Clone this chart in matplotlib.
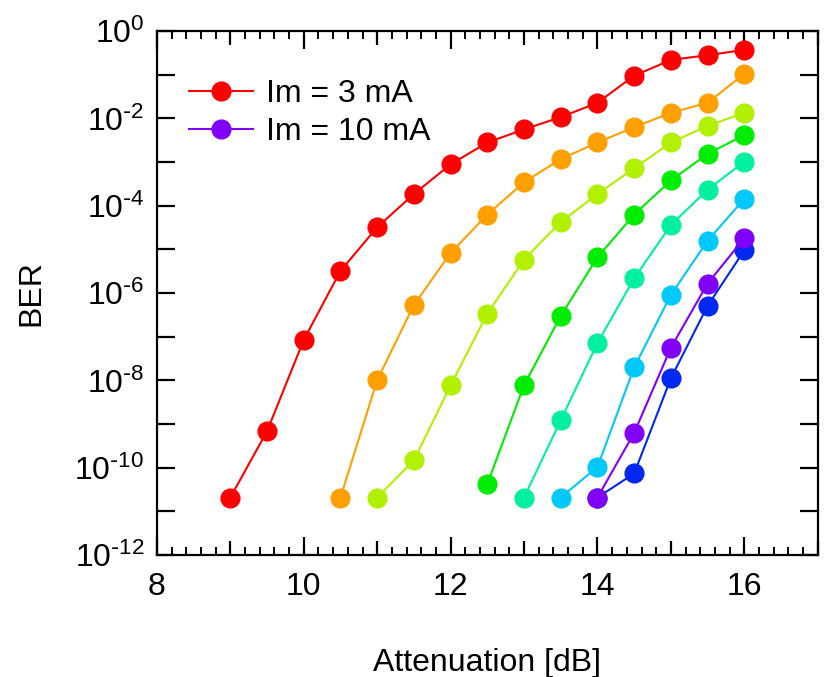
import numpy as np
import matplotlib
matplotlib.use("Agg")
import matplotlib.pyplot as plt
from matplotlib.ticker import FixedLocator, NullFormatter

plt.rcParams['font.family'] = ['Liberation Sans', 'DejaVu Sans']
plt.rcParams['mathtext.default'] = 'regular'

# Data: log10(BER) vs attenuation [dB]
x_red = [9, 9.5, 10, 10.5, 11, 11.5, 12, 12.5, 13, 13.5, 14, 14.5, 15, 15.5, 16]
logber_red = [-10.68, -9.16, -7.07, -5.49, -4.49, -3.73, -3.05, -2.55, -2.25, -1.97, -1.64, -1.02, -0.66, -0.55, -0.43]

x_orange = [10.5, 11, 11.5, 12, 12.5, 13, 13.5, 14, 14.5, 15, 15.5, 16]
logber_orange = [-10.68, -7.99, -6.27, -5.08, -4.20, -3.46, -2.93, -2.55, -2.20, -1.87, -1.64, -0.98]

x_ygreen = [11, 11.5, 12, 12.5, 13, 13.5, 14, 14.5, 15, 15.5, 16]
logber_ygreen = [-10.68, -9.83, -8.11, -6.47, -5.23, -4.37, -3.73, -3.14, -2.55, -2.17, -1.87]

x_green = [12.5, 13, 13.5, 14, 14.5, 15, 15.5, 16]
logber_green = [-10.37, -8.11, -6.52, -5.18, -4.20, -3.42, -2.81, -2.38]

x_spring = [13, 13.5, 14, 14.5, 15, 15.5, 16]
logber_spring = [-10.68, -8.91, -7.14, -5.66, -4.44, -3.63, -2.99]

x_sky = [13.5, 14, 14.5, 15, 15.5, 16]
logber_sky = [-10.68, -9.98, -7.70, -6.04, -4.80, -3.84]

x_blue = [14, 14.5, 15, 15.5, 16]
logber_blue = [-10.68, -10.13, -7.95, -6.29, -5.02]

x_purple = [14, 14.5, 15, 15.5, 16]
logber_purple = [-10.68, -9.20, -7.25, -5.78, -4.74]

series = [
    (x_red, logber_red, '#ff0000', 'Im = 3 mA'),
    (x_orange, logber_orange, '#ffa000', None),
    (x_ygreen, logber_ygreen, '#b0f000', None),
    (x_green, logber_green, '#00ec00', None),
    (x_spring, logber_spring, '#00f0a0', None),
    (x_sky, logber_sky, '#00c8f8', None),
    (x_blue, logber_blue, '#0028f0', None),
    (x_purple, logber_purple, '#8000f8', 'Im = 10 mA'),
]

x_ticks = [8, 10, 12, 14, 16]
y_decades = list(range(-12, 1))

FS = 23

fig = plt.figure(figsize=(8.26, 6.77), dpi=100)
ax = fig.add_axes([0.190, 0.180, 0.800, 0.774])

handles = {}
for xs, lb, col, lab in series:
    ys = 10.0 ** np.array(lb)
    h, = ax.plot(xs, ys, '-o', color=col, lw=1.5, ms=13.5, mec=col, mfc=col)
    if lab:
        handles[lab] = h

ax.set_yscale('log')
ax.set_xlim(8, 17)
ax.set_ylim(1e-12, 1e0)

ax.xaxis.set_major_locator(FixedLocator(x_ticks))
ax.xaxis.set_minor_locator(FixedLocator(np.arange(8, 17.01, 0.2)))
ax.set_xticklabels([str(t) for t in x_ticks])


def ylab(d):
    if d % 2:
        return ''
    if d < 0:
        return r'$10^{\text{-}%d}$' % (-d)
    return r'$10^{%d}$' % d


ax.yaxis.set_major_locator(FixedLocator([10.0 ** d for d in y_decades]))
ax.set_yticklabels([ylab(d) for d in y_decades])
ax.yaxis.set_minor_locator(FixedLocator([]))
ax.yaxis.set_minor_formatter(NullFormatter())

ax.tick_params(axis='x', which='major', direction='in', length=13, width=1.6,
               top=True, bottom=True, labelsize=FS, pad=12)
ax.tick_params(axis='x', which='minor', direction='in', length=6, width=1.4,
               top=True, bottom=True)
ax.tick_params(axis='y', which='major', direction='in', length=13, width=1.6,
               left=True, right=True, labelsize=FS, pad=9)

# medium ticks at odd integers
for side in ('bottom', 'top'):
    sec = ax.secondary_xaxis(side)
    sec.set_xticks([9, 11, 13, 15, 17])
    sec.tick_params(direction='in', length=10, width=1.6, labelbottom=False,
                    labeltop=False)
    sec.spines[side].set_visible(False)

for sp in ax.spines.values():
    sp.set_linewidth(1.6)

ax.set_xlabel('Attenuation [dB]', fontsize=FS, labelpad=33)
ax.set_ylabel('BER', fontsize=FS, labelpad=20)

ax.legend([handles['Im = 3 mA'], handles['Im = 10 mA']], ['Im = 3 mA', 'Im = 10 mA'],
          loc='upper left', bbox_to_anchor=(0.0, 0.97), frameon=False, fontsize=FS,
          handlelength=2.0, handletextpad=0.4, labelspacing=0.25, borderaxespad=0.6)

fig.savefig('out.png', dpi=100)
